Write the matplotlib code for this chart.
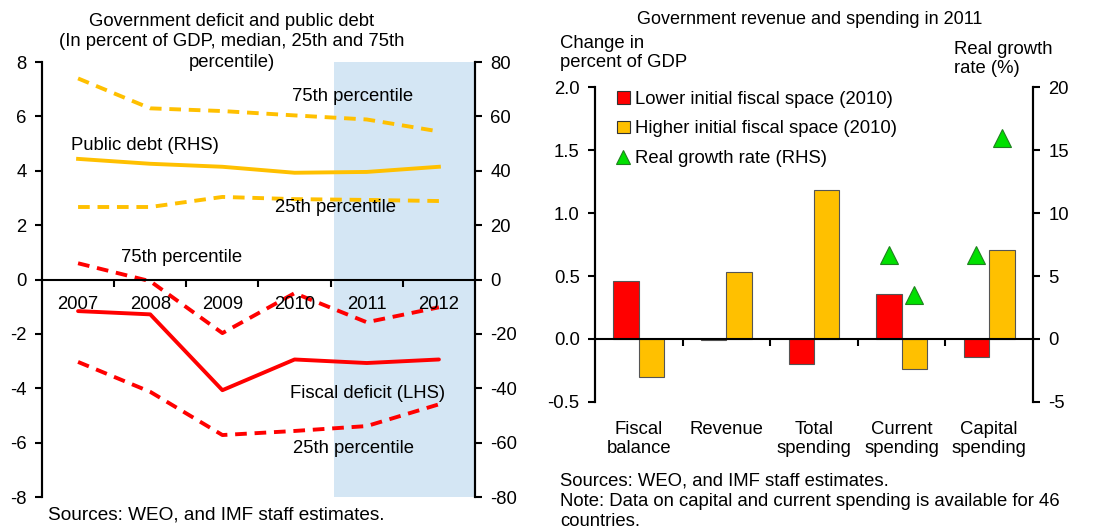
import numpy as np
import matplotlib
matplotlib.use("Agg")
import matplotlib.pyplot as plt
from matplotlib.lines import Line2D
from matplotlib.patches import Patch

plt.rcParams['font.family'] = ['Liberation Sans', 'DejaVu Sans']
plt.rcParams['font.size'] = 13
plt.rcParams['axes.unicode_minus'] = False

# left panel data
years = ['2007', '2008', '2009', '2010', '2011', '2012']
debt_median = [44.4, 42.6, 41.5, 39.3, 39.6, 41.5]
debt_p75 = [74.0, 63.0, 62.0, 60.4, 58.9, 54.5]
debt_p25 = [26.7, 26.7, 30.4, 29.6, 29.3, 28.9]
deficit_median = [-1.16, -1.28, -4.07, -2.94, -3.07, -2.94]
deficit_p75 = [0.6, -0.06, -1.97, -0.5, -1.57, -1.02]
deficit_p25 = [-3.03, -4.13, -5.72, -5.57, -5.39, -4.59]

# right panel data
categories = ['Fiscal\nbalance', 'Revenue', 'Total\nspending', 'Current\nspending', 'Capital\nspending']
lower_space = [0.463, -0.01, -0.20, 0.357, -0.145]
higher_space = [-0.30, 0.53, 1.18, -0.235, 0.706]
growth_lower = [np.nan, np.nan, np.nan, 6.67, 6.67]
growth_higher = [np.nan, np.nan, np.nan, 3.49, 15.95]

RED = '#ff0000'
GOLD = '#ffc000'
FS = 13.3

fig = plt.figure(figsize=(10.99, 5.31), dpi=100)

# ---------- left panel ----------
ax1 = fig.add_axes([0.0382, 0.064, 0.394, 0.819])
ax2 = ax1.twinx()
x = np.arange(len(years))

ax2.axvspan(3.55, 5.5, color='#d4e6f4', zorder=0, lw=0)
ax1.plot(x, deficit_median, color=RED, lw=2.8, solid_capstyle='round')
ax1.plot(x, deficit_p75, color=RED, lw=2.8, ls=(0, (3, 2)))
ax1.plot(x, deficit_p25, color=RED, lw=2.8, ls=(0, (3, 2)))
ax2.plot(x, debt_median, color=GOLD, lw=2.8, zorder=3)
ax2.plot(x, debt_p75, color=GOLD, lw=2.8, ls=(0, (3, 2)), zorder=3)
ax2.plot(x, debt_p25, color=GOLD, lw=2.8, ls=(0, (3, 2)), zorder=3)

ax1.set_xlim(-0.5, 5.5)
ax1.set_ylim(-8, 8)
ax2.set_ylim(-80, 80)
ax1.set_yticks(np.arange(-8, 9, 2))
ax2.set_yticks(np.arange(-80, 81, 20))
ax1.set_xticks(np.arange(0.5, 5, 1))
ax1.set_xticklabels([])
ax1.tick_params(axis='x', direction='out', length=5, width=1.5)
ax1.tick_params(axis='y', direction='out', length=5, width=1.5, labelsize=FS, pad=6)
ax2.tick_params(axis='y', direction='out', length=5, width=1.5, labelsize=FS, pad=6)
for ax in (ax1, ax2):
    ax.spines['top'].set_visible(False)
    ax.spines['bottom'].set_visible(False)
    ax.spines['left'].set_linewidth(1.5)
    ax.spines['right'].set_linewidth(1.5)
ax1.spines['bottom'].set_visible(True)
ax1.spines['bottom'].set_position(('data', 0))
ax1.spines['bottom'].set_linewidth(1.5)
ax1.set_zorder(ax2.get_zorder() + 1)
ax1.patch.set_visible(False)

for i, yr in enumerate(years):
    ax1.text(i, -0.9, yr, ha='center', va='center', fontsize=FS)

ax1.text(3.81, 6.75, '75th percentile', ha='center', va='center', fontsize=FS)
ax1.text(0.93, 4.95, 'Public debt (RHS)', ha='center', va='center', fontsize=FS)
ax1.text(3.57, 2.65, '25th percentile', ha='center', va='center', fontsize=FS)
ax1.text(1.43, 0.8, '75th percentile', ha='center', va='center', fontsize=FS)
ax1.text(4.01, -4.2, 'Fiscal deficit (LHS)', ha='center', va='center', fontsize=FS)
ax1.text(3.82, -6.2, '25th percentile', ha='center', va='center', fontsize=FS)

fig.text(232 / 1099, 1 - 42 / 531,
         'Government deficit and public debt\n(In percent of GDP, median, 25th and 75th\npercentile)',
         ha='center', va='center', fontsize=FS, linespacing=1.3)
fig.text(48 / 1099, 1 - 515 / 531, 'Sources: WEO, and IMF staff estimates.',
         ha='left', va='center', fontsize=FS + 0.4)

# ---------- right panel ----------
ax3 = fig.add_axes([0.5414, 0.243, 0.3985, 0.593])
ax4 = ax3.twinx()
c = np.arange(len(categories))
w = 0.29
ax3.bar(c - w / 2, lower_space, w, color=RED, edgecolor='#555555', lw=0.8)
ax3.bar(c + w / 2, higher_space, w, color=GOLD, edgecolor='#555555', lw=0.8)
ax4.plot(c - w / 2, growth_lower, ls='none', marker='^', ms=13, color='#00e000',
         mec='#208020', mew=0.8)
ax4.plot(c + w / 2, growth_higher, ls='none', marker='^', ms=13, color='#00e000',
         mec='#208020', mew=0.8)

ax3.set_xlim(-0.5, 4.5)
ax3.set_ylim(-0.5, 2.0)
ax4.set_ylim(-5, 20)
ax3.set_yticks(np.arange(-0.5, 2.01, 0.5))
ax3.set_yticklabels(['-0.5', '0.0', '0.5', '1.0', '1.5', '2.0'])
ax4.set_yticks(np.arange(-5, 21, 5))
ax3.set_xticks(np.arange(0.5, 4, 1))
ax3.set_xticklabels([])
ax3.tick_params(axis='x', direction='out', length=5, width=1.5)
ax3.tick_params(axis='y', direction='out', length=5, width=1.5, labelsize=FS, pad=6)
ax4.tick_params(axis='y', direction='out', length=5, width=1.5, labelsize=FS, pad=6)
for ax in (ax3, ax4):
    ax.spines['top'].set_visible(False)
    ax.spines['bottom'].set_visible(False)
    ax.spines['left'].set_linewidth(1.5)
    ax.spines['right'].set_linewidth(1.5)
ax3.spines['bottom'].set_visible(True)
ax3.spines['bottom'].set_position(('data', 0))
ax3.spines['bottom'].set_linewidth(1.5)

for i, cat in enumerate(categories):
    ax3.text(i, -0.65, cat, ha='center', va='top', fontsize=FS, linespacing=1.2)

handles = [Patch(facecolor=RED, edgecolor='#333333', lw=0.8),
           Patch(facecolor=GOLD, edgecolor='#333333', lw=0.8),
           Line2D([], [], ls='none', marker='^', ms=10, color='#00e000', mec='#208020', mew=0.8)]
labels = ['Lower initial fiscal space (2010)', 'Higher initial fiscal space (2010)',
          'Real growth rate (RHS)']
ax4.legend(handles, labels, loc='upper left', bbox_to_anchor=(0.02, 1.03), frameon=False,
           fontsize=FS, handlelength=0.7, handleheight=0.7, handletextpad=0.3,
           labelspacing=0.7, borderaxespad=0.3)

fig.text(810 / 1099, 1 - 20 / 531, 'Government revenue and spending in 2011',
         ha='center', va='center', fontsize=FS - 0.3)
fig.text(560 / 1099, 1 - 53 / 531, 'Change in\npercent of GDP',
         ha='left', va='center', fontsize=FS, linespacing=1.1)
fig.text(954 / 1099, 1 - 59 / 531, 'Real growth\nrate (%)',
         ha='left', va='center', fontsize=FS, linespacing=1.2)
fig.text(560 / 1099, 1 - 501 / 531,
         'Sources: WEO, and IMF staff estimates.\nNote: Data on capital and current spending is available for 46\ncountries.',
         ha='left', va='center', fontsize=FS, linespacing=1.25)

fig.savefig('out.png', dpi=100)
